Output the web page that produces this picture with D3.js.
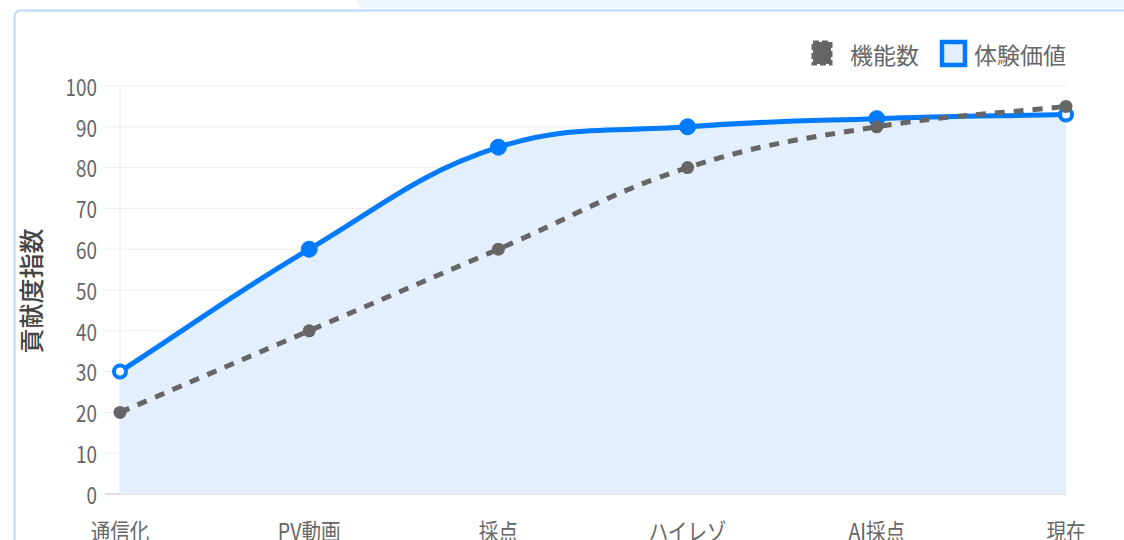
<!DOCTYPE html>
<html><head><meta charset="utf-8">
<script src="https://cdn.jsdelivr.net/npm/d3@7"></script>
<style>html,body{margin:0;padding:0;background:#fff;overflow:hidden}svg{display:block}</style>
</head><body>
<svg id="c" width="1124" height="540"></svg>
<script>
const categories = ["通信化", "PV動画", "採点", "ハイレゾ", "AI採点", "現在"];
const featureCount = [20, 40, 60, 80, 90, 95];      // 機能数
const experienceValue = [30, 60, 85, 90, 92, 93];   // 体験価値
const yTicks = [0, 10, 20, 30, 40, 50, 60, 70, 80, 90, 100];
const seriesNames = ["機能数", "体験価値"];
const yTitle = "貢献度指数";

const svg = d3.select("#c");
const FONT = "'Noto Sans CJK JP','Noto Sans',sans-serif";
const W = 1124, H = 540;
const pL = 120, pR = 1066, pT = 86, pB = 494;

// background decoration above card
svg.append("path").attr("d", `M355,0 L${W},0 L${W},11 L362,11 Z`).attr("fill", "#f0f6fe");
// card
svg.append("rect").attr("x", 14.5).attr("y", 10.5).attr("width", W + 20).attr("height", H + 20)
  .attr("rx", 6).attr("fill", "#fff").attr("stroke", "#b9d9fd").attr("stroke-width", 2);

const x = d3.scalePoint().domain(categories).range([pL, pR]);
const y = d3.scaleLinear().domain([0, 100]).range([pB, pT]);

const g = svg.append("g");
// grid
g.selectAll("line.grid").data(yTicks).join("line")
  .attr("x1", pL - 15).attr("x2", pR).attr("y1", d => y(d)).attr("y2", d => y(d))
  .attr("stroke", d => d === 0 ? "#d6d6d6" : "#ececec").attr("stroke-width", d => d === 0 ? 1.5 : 1);
g.append("line").attr("x1", pL).attr("x2", pL).attr("y1", pT).attr("y2", pB)
  .attr("stroke", "#e6e6e6").attr("stroke-width", 1);

// tick labels
g.selectAll("text.yt").data(yTicks).join("text")
  .attr("text-anchor", "end").attr("dominant-baseline", "central")
  .attr("transform", d => `translate(97,${y(d)}) scale(0.82,1)`)
  .attr("font-family", FONT).attr("font-size", 23).attr("fill", "#666")
  .text(d => d);
g.selectAll("text.xt").data(categories).join("text")
  .attr("text-anchor", "middle")
  .attr("transform", d => `translate(${x(d)},540) scale(0.85,1)`)
  .attr("font-family", FONT).attr("font-size", 23).attr("fill", "#666")
  .text(d => d);
svg.append("text").attr("transform", "translate(41,291) rotate(-90)")
  .attr("text-anchor", "middle").attr("font-family", FONT).attr("font-size", 25)
  .attr("font-weight", 500).attr("fill", "#444").text(yTitle);

// Chart.js-style spline
function splinePath(vals, closeToZero) {
  const pts = vals.map((v, i) => ({x: x(categories[i]), y: y(v)}));
  const t = 0.4;
  const cps = pts.map((p, i) => {
    const prev = pts[i - 1] || p, next = pts[i + 1] || p;
    const d01 = Math.hypot(p.x - prev.x, p.y - prev.y), d12 = Math.hypot(next.x - p.x, next.y - p.y);
    let s01 = d01 / (d01 + d12), s12 = d12 / (d01 + d12);
    if (isNaN(s01)) s01 = 0; if (isNaN(s12)) s12 = 0;
    const fa = t * s01, fb = t * s12;
    const clampY = v => Math.max(pT, Math.min(pB, v));
    return {
      px: p.x - fa * (next.x - prev.x), py: clampY(p.y - fa * (next.y - prev.y)),
      nx: p.x + fb * (next.x - prev.x), ny: clampY(p.y + fb * (next.y - prev.y))
    };
  });
  const path = d3.path();
  path.moveTo(pts[0].x, pts[0].y);
  for (let i = 1; i < pts.length; i++) {
    path.bezierCurveTo(cps[i - 1].nx, cps[i - 1].ny, cps[i].px, cps[i].py, pts[i].x, pts[i].y);
  }
  if (closeToZero) {
    path.lineTo(pts[pts.length - 1].x, y(0));
    path.lineTo(pts[0].x, y(0));
    path.closePath();
  }
  return {d: path.toString(), pts};
}

const blue = "#007bff", gray = "#666666";
const ev = splinePath(experienceValue, true);
svg.append("path").attr("d", ev.d).attr("fill", "#e3effd");
const evl = splinePath(experienceValue, false);
svg.append("path").attr("d", evl.d).attr("fill", "none").attr("stroke", blue).attr("stroke-width", 5);
const isEnd = i => i === 0 || i === experienceValue.length - 1;
svg.selectAll("circle.ev").data(experienceValue).join("circle")
  .attr("cx", (d, i) => x(categories[i])).attr("cy", d => y(d))
  .attr("r", (d, i) => isEnd(i) ? 6 : 8)
  .attr("fill", (d, i) => isEnd(i) ? "#fff" : blue)
  .attr("stroke", blue).attr("stroke-width", (d, i) => isEnd(i) ? 4 : 1);

const fc = splinePath(featureCount, false);
svg.append("path").attr("d", fc.d).attr("fill", "none").attr("stroke", gray).attr("stroke-width", 5)
  .attr("stroke-dasharray", "10,9");
svg.selectAll("circle.fc").data(featureCount).join("circle")
  .attr("cx", (d, i) => x(categories[i])).attr("cy", d => y(d)).attr("r", 6.5).attr("fill", gray);

// legend
const lg = svg.append("g");
lg.append("rect").attr("x", 813).attr("y", 42).attr("width", 18).attr("height", 22)
  .attr("fill", gray).attr("stroke", gray).attr("stroke-width", 3).attr("stroke-dasharray", "6,3");
lg.append("text").attr("x", 850).attr("y", 54).attr("dominant-baseline", "central")
  .attr("font-family", FONT).attr("font-size", 23).attr("fill", "#666").text(seriesNames[0]);
lg.append("rect").attr("x", 942).attr("y", 42).attr("width", 23).attr("height", 23)
  .attr("fill", "#e3effd").attr("stroke", blue).attr("stroke-width", 4.5);
lg.append("text").attr("x", 974).attr("y", 54).attr("dominant-baseline", "central")
  .attr("font-family", FONT).attr("font-size", 23).attr("fill", "#666").text(seriesNames[1]);
</script>
</body></html>
